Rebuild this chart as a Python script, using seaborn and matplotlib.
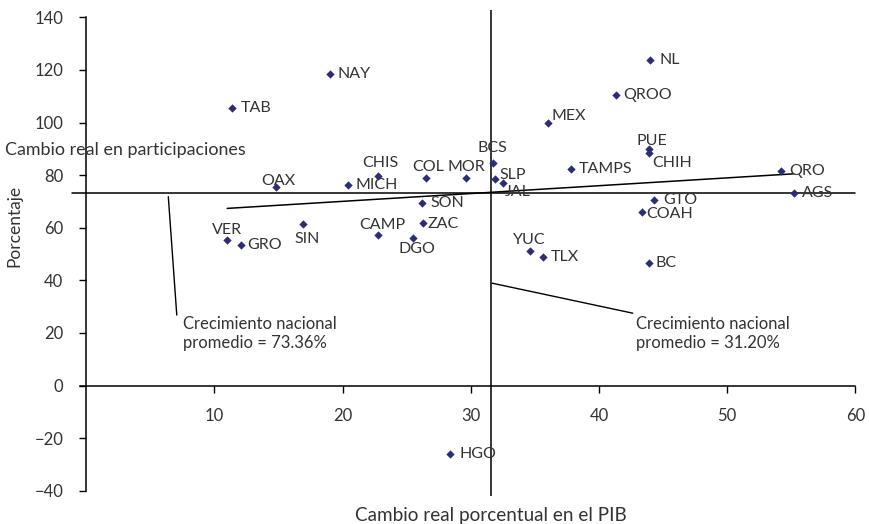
import numpy as np
import pandas as pd
import matplotlib
matplotlib.use('Agg')
import matplotlib.pyplot as plt
import seaborn as sns

# data

estados = ['NL', 'QROO', 'MEX', 'NAY', 'TAB', 'PUE', 'CHIH', 'BCS', 'CHIS', 'COL', 'MOR',
           'SLP', 'JAL', 'TAMPS', 'QRO', 'AGS', 'OAX', 'MICH', 'SON', 'GTO', 'COAH', 'SIN',
           'ZAC', 'CAMP', 'DGO', 'VER', 'GRO', 'YUC', 'TLX', 'BC', 'HGO']
pib = [44.0, 41.3, 36.0, 19.0, 11.4, 43.9, 43.9, 31.7, 22.8, 26.5, 29.6,
       31.9, 32.5, 37.8, 54.2, 55.2, 14.8, 20.4, 26.2, 44.3, 43.4, 16.9,
       26.3, 22.8, 25.5, 11.0, 12.1, 34.6, 35.6, 43.9, 28.4]
participaciones = [123.8, 110.3, 99.9, 118.3, 105.6, 89.8, 88.5, 84.7, 79.8, 79.0, 79.0,
                   78.4, 77.1, 82.2, 81.6, 73.3, 75.6, 76.1, 69.5, 70.4, 66.0, 61.3,
                   61.7, 57.3, 56.0, 55.3, 53.4, 51.3, 48.7, 46.5, -26.2]

prom_participaciones = 73.36
prom_pib = 31.6   # where the vertical line sits in the picture (label says 31.20%)

df = pd.DataFrame({'estado': estados, 'pib': pib, 'part': participaciones})

# label offsets in pixels (dx, dy, ha)
offsets = {
    'NAY': (8, 0, 'left'), 'TAB': (8, 0, 'left'), 'OAX': (2, 6, 'center'),
    'MICH': (8, 0, 'left'), 'CHIS': (2, 13, 'center'), 'COL': (2, 11, 'center'),
    'MOR': (1, 11, 'center'), 'BCS': (0, 15, 'center'), 'SON': (8, 0, 'left'),
    'SIN': (4, -15, 'center'), 'ZAC': (4, -1, 'left'), 'CAMP': (4, 10, 'center'),
    'VER': (0, 10, 'center'), 'GRO': (6, 0, 'left'), 'DGO': (4, -11, 'center'),
    'NL': (9, 0, 'left'), 'QROO': (8, 0, 'left'), 'MEX': (4, 7, 'left'),
    'PUE': (3, 8, 'center'), 'CHIH': (3, -10, 'left'), 'TAMPS': (8, 0, 'left'),
    'SLP': (4, 4, 'left'), 'JAL': (2, -9, 'left'), 'QRO': (8, 0, 'left'),
    'AGS': (8, 0, 'left'), 'GTO': (9, 0, 'left'), 'COAH': (4, -2, 'left'),
    'YUC': (0, 11, 'center'), 'TLX': (8, 0, 'left'), 'BC': (7, 0, 'left'),
    'HGO': (9, 0, 'left'),
}

sns.set_style('white')
plt.rcParams['font.family'] = ['Lato', 'DejaVu Sans']
txt = '#333333'
navy = '#2b2d78'

fig = plt.figure(figsize=(8.69, 5.24), dpi=100)
ax = fig.add_axes([0.077, 0.0535, 0.9146, 0.9275])

sns.scatterplot(data=df, x='pib', y='part', marker='D', s=18, color=navy,
                edgecolor=navy, linewidth=0, ax=ax, zorder=3)
sns.regplot(data=df, x='pib', y='part', scatter=False, ci=None, truncate=True,
            line_kws={'color': 'black', 'lw': 1.1}, ax=ax)

for est, x, y in zip(df['estado'], df['pib'], df['part']):
    dx, dy, ha = offsets[est]
    ax.annotate(est, (x, y), xytext=(dx, dy), textcoords='offset pixels',
                ha=ha, va='center', fontsize=11.5, color=txt, zorder=4)

# reference lines
ax.plot([-1.1, 60], [prom_participaciones] * 2, color='black', lw=1.1, clip_on=False)
ax.axvline(prom_pib, color='black', lw=1.1)

# leader lines and notes
ax.plot([6.41, 7.07], [71.8, 26.8], color='black', lw=1.0)
ax.plot([31.68, 42.64], [38.9, 27.5], color='black', lw=1.0)
ax.text(7.56, 26.5, 'Crecimiento nacional\npromedio = 73.36%', ha='left', va='top',
        fontsize=12, color=txt, linespacing=1.25)
ax.text(42.9, 26.5, 'Crecimiento nacional\npromedio = 31.20%', ha='left', va='top',
        fontsize=12, color=txt, linespacing=1.25)
ax.text(-6.33, 89.5, 'Cambio real en participaciones', ha='left', va='center',
        fontsize=12.9, color=txt, clip_on=False)

ax.set_xlim(-1.5, 60.5)
ax.set_ylim(-42, 142.8)
ax.set_xticks([10, 20, 30, 40, 50, 60])
ax.set_yticks(np.arange(-40, 141, 20))
ax.set_yticklabels([str(v).replace('-', '\u2212') for v in range(-40, 141, 20)])

for s in ['top', 'right']:
    ax.spines[s].set_visible(False)
ax.spines['left'].set_position(('data', 0))
ax.spines['bottom'].set_position(('data', 0))
ax.spines['left'].set_bounds(-40, 140)
ax.spines['bottom'].set_bounds(-0.45, 60)
for s in ['left', 'bottom']:
    ax.spines[s].set_color('black')
    ax.spines[s].set_linewidth(1.1)

ax.tick_params(axis='x', bottom=True, direction='out', length=5, width=1, color='black',
               pad=11, labelsize=12, labelcolor=txt)
ax.tick_params(axis='y', left=True, direction='out', length=5, width=1, color='black',
               pad=11.5, labelsize=12, labelcolor=txt)

ax.set_xlabel('Cambio real porcentual en el PIB', fontsize=13.6, color=txt)
ax.set_ylabel('Porcentaje', fontsize=12.5, color=txt)
ax.xaxis.set_label_coords(0.5336, -0.0227)
ax.yaxis.set_label_coords(-0.0565, 0.555)

fig.savefig('out.png', dpi=100)
